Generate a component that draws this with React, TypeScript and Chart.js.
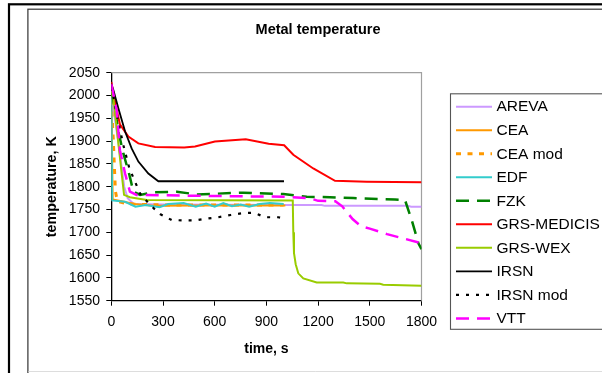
import React, { useEffect, useRef } from "react";
import { Chart, registerables } from "chart.js";

Chart.register(...registerables);

// ---- data (time in s, temperature in K) ----
const arevaT = [0, 40, 75, 95, 130, 300, 1000, 1220, 1240, 1720, 1740, 1800];
const arevaK = [2000, 1900, 1800, 1775, 1762, 1761, 1760, 1760, 1758, 1758, 1756, 1756];

const ceaT = [0, 8, 60, 134, 245, 500, 800, 1010];
const ceaK = [2000, 1772, 1768, 1762, 1758, 1759, 1759, 1759];

const ceaModT = [0, 12, 16, 24, 35, 100, 300, 1000];
const ceaModK = [1990, 1900, 1860, 1790, 1768, 1762, 1760, 1760];

const edfT = [0, 5, 80, 140, 200, 280, 330, 420, 490, 550, 600, 650, 700, 750, 800, 860, 920, 1000];
const edfK = [2000, 1770, 1767, 1756, 1760, 1755, 1762, 1764, 1756, 1763, 1756, 1764, 1757, 1761, 1756, 1762, 1764, 1762];

const fzkT = [0, 20, 41, 70, 105, 128, 167, 244, 380, 496, 766, 998, 1134, 1269, 1404, 1646, 1704, 1743, 1782, 1800];
const fzkK = [2010, 1975, 1921, 1873, 1826, 1789, 1782, 1788, 1789, 1783, 1787, 1784, 1778, 1777, 1775, 1772, 1771, 1727, 1676, 1663];

const medicisT = [0, 25, 50, 99, 157, 254, 423, 486, 601, 780, 913, 1003, 1056, 1172, 1298, 1482, 1800];
const medicisK = [2030, 1980, 1937, 1910, 1895, 1887, 1886, 1888, 1899, 1904, 1894, 1891, 1870, 1840, 1813, 1811, 1810];

const wexT = [0, 12, 41, 60, 74, 108, 205, 1053, 1056, 1060, 1070, 1085, 1114, 1192, 1346, 1366, 1559, 1578, 1800];
const wexK = [2010, 1994, 1895, 1829, 1782, 1777, 1771, 1770, 1700, 1655, 1630, 1610, 1599, 1590, 1590, 1588, 1587, 1585, 1583];

const irsnT = [0, 12, 41, 80, 118, 157, 215, 273, 1002];
const irsnK = [2025, 2012, 1972, 1921, 1884, 1855, 1829, 1812, 1812];

const irsnModT = [0, 31, 70, 105, 167, 225, 283, 350, 418, 486, 553, 621, 693, 762, 828, 892, 969, 991];
const irsnModK = [2020, 1960, 1891, 1840, 1785, 1760, 1740, 1727, 1726, 1726, 1730, 1733, 1738, 1742, 1743, 1733, 1733, 1731];

const vttT = [0, 31, 50, 80, 108, 147, 500, 1000, 1150, 1200, 1300, 1340, 1400, 1450, 1500, 1600, 1700, 1800];
const vttK = [2025, 1968, 1880, 1829, 1789, 1782, 1780, 1778, 1775, 1769, 1768, 1757, 1729, 1713, 1708, 1696, 1686, 1676];

const seriesNames = ["AREVA", "CEA", "CEA mod", "EDF", "FZK", "GRS-MEDICIS", "GRS-WEX", "IRSN", "IRSN mod", "VTT"];
const seriesTimes = [arevaT, ceaT, ceaModT, edfT, fzkT, medicisT, wexT, irsnT, irsnModT, vttT];
const seriesTemps = [arevaK, ceaK, ceaModK, edfK, fzkK, medicisK, wexK, irsnK, irsnModK, vttK];

const xTicks = [0, 300, 600, 900, 1200, 1500, 1800];
const yMin = 1550;
const yMax = 2050;
const yStep = 50;

const chartTitle = "Metal temperature";
const xTitle = "time, s";
const yTitle = "temperature, K";

// ---- styles ----
const seriesStyles = [
  { color: "#cc99ff", width: 2, dash: [] as number[] },
  { color: "#ff9900", width: 2, dash: [] as number[] },
  { color: "#ff9900", width: 3, dash: [5, 6.5] },
  { color: "#33cccc", width: 2, dash: [] as number[] },
  { color: "#008000", width: 2.5, dash: [13, 8] },
  { color: "#ff0000", width: 2, dash: [] as number[] },
  { color: "#99cc00", width: 2, dash: [] as number[] },
  { color: "#000000", width: 1.8, dash: [] as number[] },
  { color: "#000000", width: 2.2, dash: [3, 7] },
  { color: "#ff00ff", width: 2.5, dash: [13, 8] },
];

const FONT = "'Liberation Sans', Arial, sans-serif";

const framePlugin = {
  id: "frame",
  beforeDraw(chart: any) {
    const ctx = chart.ctx;
    ctx.save();
    ctx.fillStyle = "#ffffff";
    ctx.fillRect(0, 0, chart.width, chart.height);
    // outer border
    ctx.strokeStyle = "#000000";
    ctx.lineWidth = 2.2;
    ctx.strokeRect(9, 4.3, 800, 500);
    // inner border
    ctx.strokeStyle = "#333333";
    ctx.lineWidth = 1.2;
    ctx.strokeRect(27.9, 9.2, 800, 500);
    ctx.strokeStyle = "#dddddd";
    ctx.lineWidth = 1;
    ctx.beginPath();
    ctx.moveTo(28.5, 371.5);
    ctx.lineTo(602, 371.5);
    ctx.stroke();
    // title
    ctx.fillStyle = "#000000";
    ctx.font = "bold 14.5px " + FONT;
    ctx.textAlign = "center";
    ctx.textBaseline = "middle";
    ctx.fillText(chartTitle, 318, 30);
    ctx.restore();
  },
  beforeDatasetsDraw(chart: any) {
    const ctx = chart.ctx;
    const a = chart.chartArea;
    ctx.save();
    ctx.strokeStyle = "#a0a0a0";
    ctx.lineWidth = 1.2;
    ctx.beginPath();
    ctx.moveTo(a.left, a.top);
    ctx.lineTo(a.right, a.top);
    ctx.lineTo(a.right, a.bottom);
    ctx.stroke();
    ctx.restore();
  },
  afterDraw(chart: any) {
    const ctx = chart.ctx;
    ctx.save();
    // legend box
    const lx = 450.5, ly = 93.8, lb = 329.3;
    ctx.strokeStyle = "#555555";
    ctx.lineWidth = 1.1;
    ctx.strokeRect(lx, ly, 300, lb - ly);
    ctx.font = "15.5px " + FONT;
    ctx.textAlign = "left";
    ctx.textBaseline = "middle";
    chart.data.datasets.forEach((ds: any, i: number) => {
      const y = 106.7 + i * 23.52;
      ctx.beginPath();
      ctx.setLineDash(ds.borderDash || []);
      ctx.strokeStyle = ds.borderColor;
      ctx.lineWidth = ds.borderWidth;
      ctx.moveTo(456, y);
      ctx.lineTo(492, y);
      ctx.stroke();
      ctx.setLineDash([]);
      ctx.fillStyle = "#000000";
      ctx.fillText(ds.label, 496.5, y + 0.5);
    });
    ctx.restore();
  },
};

export default function App() {
  const ref = useRef<HTMLCanvasElement | null>(null);

  useEffect(() => {
    if (!ref.current) return;
    const datasets = seriesNames.map((name, i) => ({
      label: name,
      data: seriesTimes[i].map((t, j) => ({ x: t, y: seriesTemps[i][j] })),
      borderColor: seriesStyles[i].color,
      backgroundColor: seriesStyles[i].color,
      borderWidth: seriesStyles[i].width,
      borderDash: seriesStyles[i].dash,
      pointRadius: 0,
      tension: 0,
      fill: false,
      order: seriesNames.length - i,
    }));

    const chart = new Chart(ref.current, {
      type: "line",
      data: { datasets },
      options: {
        animation: false,
        responsive: false,
        devicePixelRatio: 1,
        layout: { padding: { left: 0, top: 72.7, right: 180.5, bottom: 0 } },
        plugins: {
          legend: { display: false },
          title: { display: false },
          tooltip: { enabled: false },
        },
        scales: {
          x: {
            type: "linear",
            min: 0,
            max: 1800,
            afterFit: (s: any) => { s.height = 72.3; },
            afterBuildTicks: (s: any) => { s.ticks = xTicks.map((v) => ({ value: v })); },
            ticks: {
              color: "#000",
              font: { family: FONT, size: 14 },
              padding: 8.5,
              maxRotation: 0,
              autoSkip: false,
              callback: (v: any) => String(v),
            },
            grid: { drawOnChartArea: false, drawTicks: true, tickLength: 5, color: "#000", lineWidth: 1 },
            border: { display: true, color: "#000", width: 1.3 },
            title: {
              display: true,
              text: xTitle,
              color: "#000",
              font: { family: FONT, size: 14, weight: "bold" },
              padding: { top: 0, bottom: 15.6 },
            },
          },
          y: {
            type: "linear",
            min: yMin,
            max: yMax,
            afterFit: (s: any) => { s.width = 111.3; },
            ticks: {
              stepSize: yStep,
              color: "#000",
              font: { family: FONT, size: 14 },
              padding: 6.3,
              autoSkip: false,
              callback: (v: any) => String(v),
            },
            grid: { drawOnChartArea: false, drawTicks: true, tickLength: 5, color: "#000", lineWidth: 1 },
            border: { display: true, color: "#000", width: 1.3 },
            title: {
              display: true,
              text: yTitle,
              color: "#000",
              font: { family: FONT, size: 14.3, weight: "bold" },
              padding: { top: 43.4, bottom: 0 },
            },
          },
        },
      } as any,
      plugins: [framePlugin],
    });
    return () => chart.destroy();
  }, []);

  return (
    <div style={{ position: "fixed", left: 0, top: 0, width: 602, height: 373, background: "#fff" }}>
      <canvas ref={ref} width={602} height={373} style={{ display: "block", width: 602, height: 373 }} />
    </div>
  );
}
